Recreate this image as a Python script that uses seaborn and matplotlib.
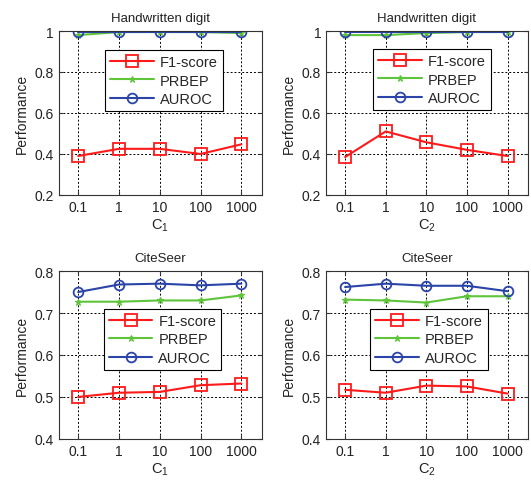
import numpy as np
import pandas as pd
import seaborn as sns
import matplotlib
matplotlib.use("Agg")
import matplotlib.pyplot as plt

sns.set_style("white")
plt.rcParams["font.family"] = ["Liberation Sans", "DejaVu Sans"]
plt.rcParams["mathtext.fontset"] = "custom"
plt.rcParams["mathtext.rm"] = "Liberation Sans"
plt.rcParams["mathtext.it"] = "Liberation Sans"

# data
c_labels = ["0.1", "1", "10", "100", "1000"]
metrics = ["F1-score", "PRBEP", "AUROC"]

hw_c1_f1 = [0.39, 0.425, 0.425, 0.40, 0.447]
hw_c1_prbep = [0.98, 0.995, 0.995, 0.995, 0.99]
hw_c1_auroc = [0.995, 0.995, 0.995, 0.995, 0.995]

hw_c2_f1 = [0.385, 0.51, 0.457, 0.42, 0.39]
hw_c2_prbep = [0.98, 0.98, 0.99, 0.995, 0.995]
hw_c2_auroc = [0.995, 0.995, 0.995, 0.995, 0.995]

cs_c1_f1 = [0.50, 0.51, 0.512, 0.528, 0.532]
cs_c1_prbep = [0.727, 0.727, 0.73, 0.73, 0.742]
cs_c1_auroc = [0.75, 0.768, 0.77, 0.766, 0.77]

cs_c2_f1 = [0.517, 0.51, 0.527, 0.525, 0.508]
cs_c2_prbep = [0.732, 0.73, 0.725, 0.74, 0.74]
cs_c2_auroc = [0.762, 0.77, 0.765, 0.765, 0.752]

panels = [
    ("Handwritten digit", "$\\mathrm{C}_1$", (hw_c1_f1, hw_c1_prbep, hw_c1_auroc),
     (0.2, 1.0), [0.2, 0.4, 0.6, 0.8, 1.0], ["0.2", "0.4", "0.6", "0.8", "1"],
     [0.111, 0.596, 0.382, 0.338], (0.227, 0.884)),
    ("Handwritten digit", "$\\mathrm{C}_2$", (hw_c2_f1, hw_c2_prbep, hw_c2_auroc),
     (0.2, 1.0), [0.2, 0.4, 0.6, 0.8, 1.0], ["0.2", "0.4", "0.6", "0.8", "1"],
     [0.614, 0.596, 0.380, 0.338], (0.233, 0.89)),
    ("CiteSeer", "$\\mathrm{C}_1$", (cs_c1_f1, cs_c1_prbep, cs_c1_auroc),
     (0.4, 0.8), [0.4, 0.5, 0.6, 0.7, 0.8], ["0.4", "0.5", "0.6", "0.7", "0.8"],
     [0.111, 0.093, 0.382, 0.346], (0.22, 0.774)),
    ("CiteSeer", "$\\mathrm{C}_2$", (cs_c2_f1, cs_c2_prbep, cs_c2_auroc),
     (0.4, 0.8), [0.4, 0.5, 0.6, 0.7, 0.8], ["0.4", "0.5", "0.6", "0.7", "0.8"],
     [0.614, 0.093, 0.380, 0.346], (0.218, 0.774)),
]

styles = {
    "F1-score": dict(color="#ff1a1a", marker="s", markersize=8, mfc="none",
                     mec="#ff1a1a", mew=1.3),
    "PRBEP": dict(color="#5ec43a", marker="*", markersize=5, mfc="#5ec43a",
                  mec="#5ec43a", mew=0.8),
    "AUROC": dict(color="#2a44a8", marker="o", markersize=7, mfc="none",
                  mec="#2a44a8", mew=1.3),
}

fig = plt.figure(figsize=(5.31, 4.85), dpi=100)
pos = np.arange(len(c_labels))

for title, xlab, series, ylim, yticks, ylabels, rect, leg_xy in panels:
    ax = fig.add_axes(rect)
    for name, vals in zip(metrics, series):
        df = pd.DataFrame({"pos": pos, "val": vals})
        sns.lineplot(data=df, x="pos", y="val", ax=ax, label=name,
                     linewidth=1.5, **styles[name])
    ax.set_xlim(-0.47, 4.5)
    ax.set_ylim(*ylim)
    ax.set_xticks(pos)
    ax.set_xticklabels(c_labels)
    ax.set_yticks(yticks)
    ax.set_yticklabels(ylabels)
    ax.tick_params(direction="in", length=3, labelsize=10, top=True, right=True,
                   bottom=True, left=True, colors="#333333", labelcolor="#222222")
    ax.grid(True, linestyle=(0, (2, 2)), color="black", linewidth=0.7)
    for sp in ax.spines.values():
        sp.set_color("#333333")
        sp.set_linewidth(0.8)
    ax.set_title(title, fontsize=9.5, pad=7, color="#222222")
    ax.set_xlabel(xlab, fontsize=10.5, labelpad=2, color="#222222")
    ax.set_ylabel("Performance", fontsize=10, labelpad=4, color="#222222")
    leg = ax.legend(loc="upper left", bbox_to_anchor=leg_xy, fontsize=10.5,
                    numpoints=1, handlelength=3.0, handletextpad=0.4,
                    borderpad=0.35, labelspacing=0.3, fancybox=False,
                    framealpha=1, edgecolor="black", borderaxespad=0)
    leg.get_frame().set_linewidth(0.8)

fig.savefig("out.png", dpi=100)
